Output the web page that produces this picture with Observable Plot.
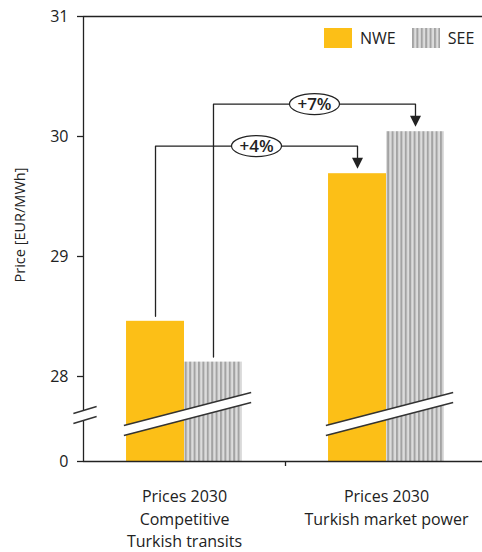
<!DOCTYPE html>
<html><head><meta charset="utf-8">
<script src="https://cdn.jsdelivr.net/npm/d3@7"></script>
<script src="https://cdn.jsdelivr.net/npm/@observablehq/plot@0.6"></script>
<style>
html,body{margin:0;padding:0;background:#fff;}
#wrap{position:relative;width:482px;height:552px;font-family:'Open Sans',sans-serif;}
#legend{position:absolute;left:324px;top:21px;width:158px;}
</style></head><body><div id="wrap"><div id="legend"></div></div>
<script>
// ---- data ----
const groups = ["Prices 2030\nCompetitive\nTurkish transits", "Prices 2030\nTurkish market power"];
const series = ["NWE", "SEE"];
const nwe = [28.46, 29.69];
const see = [28.12, 30.04];
const changes = ["+4%", "+7%"];          // NWE, SEE change between the two cases
const yTicks = [0, 28, 29, 30, 31];
const colors = ["#FCBF17", "url(#seeStripes)"];
const yLabel = "Price [EUR/MWh]";

// ---- broken y axis: 0 sits just below 28 ----
const Y0 = 27.2917;
const brk = v => v >= 28 ? v : Y0 + (v / 28) * (28 - Y0);
const unbrk = d => d < 27.9 ? "0" : String(Math.round(d));

const BW = 0.287; // bar width in group units
const values = [nwe, see];
const bars = groups.flatMap((g, i) => series.map((s, j) => ({g: i, s, j, v: values[j][i]})));
const cx = d => d.g + 0.5 + (d.j - 0.5) * BW;

const gap = 5 / 120;
const brackets = series.map((s, j) => {
  const a = bars.find(b => b.g === 0 && b.j === j), b = bars.find(b => b.g === 1 && b.j === j);
  return {s, j, a, b, level: Math.max(a.v, b.v) + 0.23, label: changes[j]};
});
const bracketPts = brackets.flatMap(k => [
  {s: k.s, x: cx(k.a), y: k.a.v + gap},
  {s: k.s, x: cx(k.a), y: k.level},
  {s: k.s, x: cx(k.b), y: k.level},
  {s: k.s, x: cx(k.b), y: k.b.v + gap + 0.03}
]);

// break decorations
const barBreaks = groups.map((g, i) => ({x1: i + 0.2, x2: i + 0.83, y1: 27.55, y2: 27.825}));
const axisBreak = [{x1: -0.05, x2: 0.065, y1: 27.65, y2: 27.708}];
const allBreaks = [...barBreaks, ...axisBreak];

const ellipse = {draw(ctx) {
  const rx = 25, ry = 10.5, k = 0.5523;
  ctx.moveTo(rx, 0);
  ctx.bezierCurveTo(rx, ry * k, rx * k, ry, 0, ry);
  ctx.bezierCurveTo(-rx * k, ry, -rx, ry * k, -rx, 0);
  ctx.bezierCurveTo(-rx, -ry * k, -rx * k, -ry, 0, -ry);
  ctx.bezierCurveTo(rx * k, -ry, rx, -ry * k, rx, 0);
  ctx.closePath();
}};
const arrowDown = {draw(ctx) {
  ctx.moveTo(-5.5, -11); ctx.lineTo(5.5, -11); ctx.lineTo(0, 0); ctx.closePath();
}};

const defs = () => {
  const d = d3.create("svg:defs");
  const p = d.append("pattern").attr("id", "seeStripes").attr("patternUnits", "userSpaceOnUse")
    .attr("width", 4.4).attr("height", 8);
  p.append("rect").attr("width", 4.4).attr("height", 8).attr("fill", "#dcdcdc");
  p.append("rect").attr("width", 2).attr("height", 8).attr("fill", "#a3a3a3");
  return d.node();
};

const ink = "#222";
const chart = Plot.plot({
  width: 482, height: 552,
  marginLeft: 83, marginTop: 16, marginBottom: 91, marginRight: 0,
  style: {fontFamily: "'Open Sans', sans-serif", fontSize: "16px", color: ink, background: "white"},
  x: {type: "linear", domain: [0, 2], range: [83, 487]},
  y: {domain: [Y0, 31], range: [461, 16]},
  color: {type: "ordinal", domain: series, range: colors},
  marks: [
    defs,
    Plot.rect(bars, {x1: d => cx(d) - BW / 2, x2: d => cx(d) + BW / 2, y1: () => Y0, y2: "v", fill: "s"}),
    Plot.ruleY([31], {x1: 0, x2: 2, stroke: ink, strokeWidth: 1.3}),
    Plot.ruleY([Y0], {x1: 0, x2: 2, stroke: ink, strokeWidth: 1.3}),
    Plot.ruleX([0], {y1: Y0, y2: 31, stroke: ink, strokeWidth: 1.3}),
    Plot.axisY(yTicks.map(brk), {tickSize: 6, tickPadding: 9, tickFormat: unbrk, label: null, strokeWidth: 1.3}),
    Plot.axisX([1], {tickSize: 5, tickFormat: () => "", label: null, strokeWidth: 1.3}),
    Plot.link(allBreaks, {x1: "x1", x2: "x2", y1: "y1", y2: "y2", stroke: "white", strokeWidth: 9.5}),
    Plot.link(allBreaks, {x1: "x1", x2: "x2", y1: "y1", y2: "y2", stroke: "#333", strokeWidth: 1.4, dy: -5}),
    Plot.link(allBreaks, {x1: "x1", x2: "x2", y1: "y1", y2: "y2", stroke: "#333", strokeWidth: 1.4, dy: 5}),
    Plot.line(bracketPts, {x: "x", y: "y", z: "s", stroke: ink, strokeWidth: 1.3}),
    Plot.dot(brackets, {x: k => cx(k.b), y: k => k.b.v + gap, symbol: arrowDown, fill: ink, stroke: null}),
    Plot.dot(brackets, {x: k => (cx(k.a) + cx(k.b)) / 2, y: "level", symbol: ellipse, fill: "white", stroke: ink, strokeWidth: 1.2}),
    Plot.text(brackets, {x: k => (cx(k.a) + cx(k.b)) / 2, y: "level", text: "label", fontSize: 17, fontWeight: 600, fill: ink}),
    Plot.text(groups, {x: (d, i) => i + 0.5, y: () => Y0, text: d => d, lineAnchor: "top", dy: 25, lineHeight: 1.4, fontSize: 16, fill: ink}),
    Plot.text([yLabel], {frameAnchor: "left", textAnchor: "middle", rotate: -90, dx: -63, dy: -14, fontSize: 14.5, fill: ink})
  ]
});
document.getElementById("wrap").prepend(chart);

const leg = chart.legend("color", {swatchWidth: 28, swatchHeight: 20});
leg.style.fontSize = "16px";
leg.style.fontFamily = "'Open Sans', sans-serif";
leg.style.margin = "0";
leg.style.color = ink;
leg.style.flexWrap = "nowrap";
leg.style.whiteSpace = "nowrap";
leg.style.width = "max-content";
document.getElementById("legend").append(leg);
</script>
</body></html>
